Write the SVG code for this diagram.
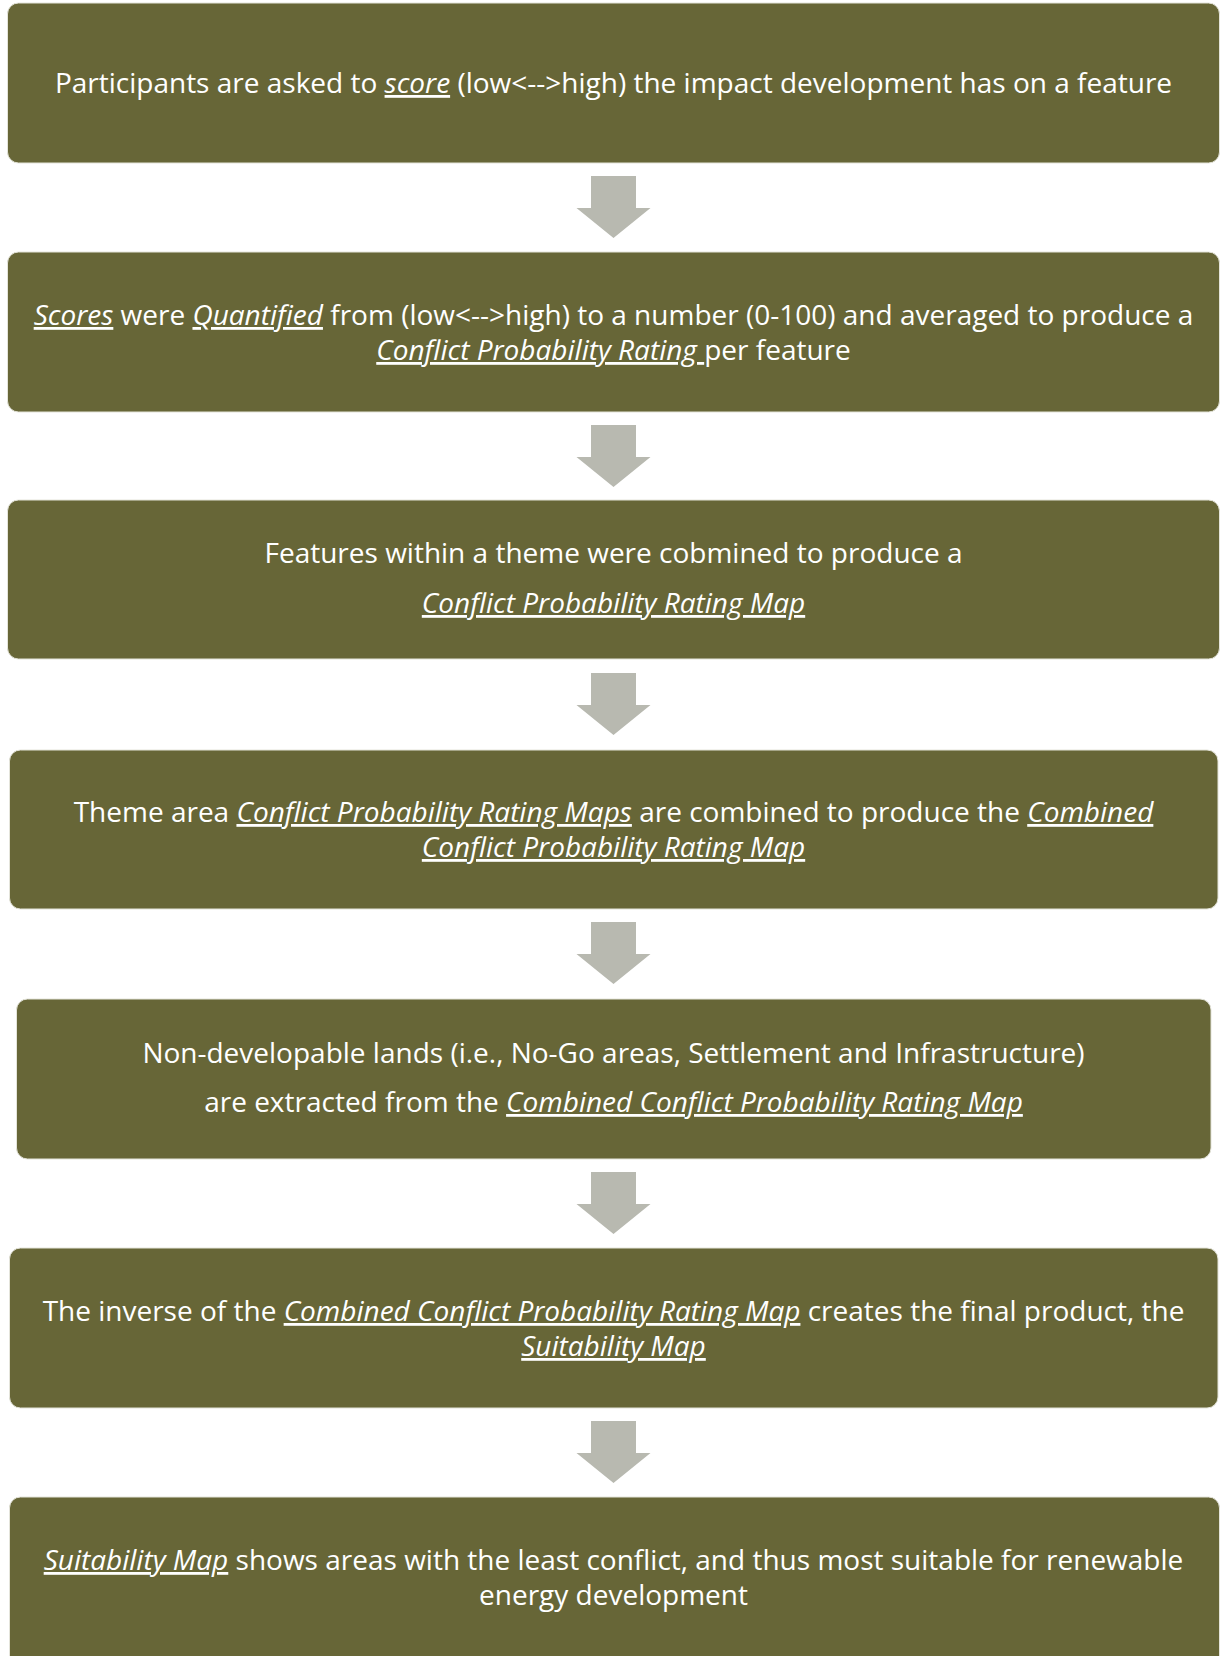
<svg xmlns="http://www.w3.org/2000/svg" xmlns:xlink="http://www.w3.org/1999/xlink" width="1220" height="1656" viewBox="0 0 1220 1656">
<defs>
<style>
.box{fill:#676637;stroke:#e4e4da;stroke-width:1}
.t{font-family:"Open Sans","Noto Sans","DejaVu Sans",sans-serif;font-size:28px;fill:#ffffff;text-anchor:middle}
.u{font-style:italic;text-decoration:underline}
.arrow{fill:#b8b9b0}
</style>
<path id="arr" d="M-22.5,0 H22.5 V32 H37 L0,62 L-37,32 H-22.5 Z"/>
</defs>
<rect width="1220" height="1656" fill="#ffffff"/>
<g id="connectors" class="arrow">
<use xlink:href="#arr" href="#arr" x="613.5" y="176"/>
<use xlink:href="#arr" href="#arr" x="613.5" y="425"/>
<use xlink:href="#arr" href="#arr" x="613.5" y="673"/>
<use xlink:href="#arr" href="#arr" x="613.5" y="922"/>
<use xlink:href="#arr" href="#arr" x="613.5" y="1172"/>
<use xlink:href="#arr" href="#arr" x="613.5" y="1421"/>
</g>
<g id="node1">
<rect class="box" x="7.5" y="3" width="1212" height="160" rx="11"/>
<text class="t" x="613.5" y="93">Participants are asked to <tspan class="u">score</tspan> (low&lt;--&gt;high) the impact development has on a feature</text>
</g>
<g id="node2">
<rect class="box" x="7.5" y="252" width="1212" height="160" rx="11"/>
<text class="t" x="613.5" y="325"><tspan class="u">Scores</tspan> were <tspan class="u">Quantified</tspan> from (low&lt;--&gt;high) to a number (0-100) and averaged to produce a</text>
<text class="t" x="613.5" y="360"><tspan class="u">Conflict Probability Rating </tspan>per feature</text>
</g>
<g id="node3">
<rect class="box" x="7.5" y="500" width="1212" height="159" rx="11"/>
<text class="t" x="613.5" y="563">Features within a theme were cobmined to produce a</text>
<text class="t" x="613.5" y="613"><tspan class="u">Conflict Probability Rating Map</tspan></text>
</g>
<g id="node4">
<rect class="box" x="9.5" y="750" width="1208.5" height="159" rx="11"/>
<text class="t" x="613.5" y="822">Theme area <tspan class="u">Conflict Probability Rating Maps</tspan> are combined to produce the <tspan class="u">Combined</tspan></text>
<text class="t" x="613.5" y="857"><tspan class="u">Conflict Probability Rating Map</tspan></text>
</g>
<g id="node5">
<rect class="box" x="16.5" y="999" width="1194.5" height="160" rx="11"/>
<text class="t" x="613.5" y="1063">Non-developable lands (i.e., No-Go areas, Settlement and Infrastructure)</text>
<text class="t" x="613.5" y="1112">are extracted from the <tspan class="u">Combined Conflict Probability Rating Map</tspan></text>
</g>
<g id="node6">
<rect class="box" x="9.5" y="1248" width="1208.5" height="160" rx="11"/>
<text class="t" x="613.5" y="1321">The inverse of the <tspan class="u">Combined Conflict Probability Rating Map</tspan> creates the final product, the</text>
<text class="t" x="613.5" y="1356"><tspan class="u">Suitability Map</tspan></text>
</g>
<g id="node7">
<rect class="box" x="9.5" y="1497" width="1210" height="170" rx="11"/>
<text class="t" x="613.5" y="1570"><tspan class="u">Suitability Map</tspan> shows areas with the least conflict, and thus most suitable for renewable</text>
<text class="t" x="613.5" y="1605">energy development</text>
</g>
</svg>
